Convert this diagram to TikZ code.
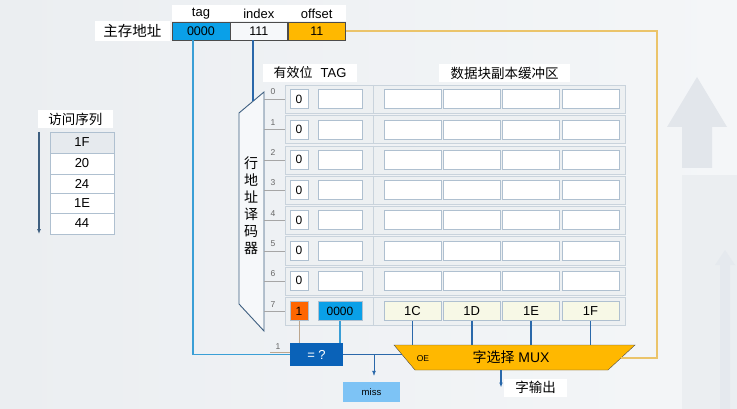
\documentclass[tikz,border=0pt]{standalone}
\usepackage{fontspec}
\setmainfont{Liberation Sans}
\newfontfamily\cjk{Noto Sans CJK SC}
\usetikzlibrary{positioning,arrows.meta}
\definecolor{tagblue}{HTML}{0AA0E8}
\definecolor{offorange}{HTML}{FFB800}
\definecolor{validred}{HTML}{FF6600}
\definecolor{cmpblue}{HTML}{0A62B8}
\definecolor{lineblue}{HTML}{3A9FD6}
\definecolor{darkline}{HTML}{2A68AA}
\definecolor{goldline}{HTML}{EBC46A}
\definecolor{rowfill}{HTML}{EDF0F2}
\definecolor{rowedge}{HTML}{C9D3DC}
\definecolor{celledge}{HTML}{AFC0D0}
\definecolor{datafill}{HTML}{F7F8E6}
\definecolor{misscol}{HTML}{7DC3F5}
\definecolor{tanline}{HTML}{BCA68E}
\definecolor{decfill}{HTML}{F6F8FA}
\definecolor{decedge}{HTML}{3E5F80}
\definecolor{seqgray}{HTML}{E6EAEE}
\definecolor{bgl}{HTML}{EBEEF1}
\definecolor{bgr}{HTML}{F4F6F8}
\definecolor{decor}{HTML}{E2E6EB}
\begin{document}
\begin{tikzpicture}[x=1pt,y=-1pt,
  cell/.style={draw=celledge,fill=white,inner sep=0pt,minimum height=19,font=\fontsize{12}{13}\selectfont},
  addr/.style={draw=gray!60!black,inner sep=0pt,minimum width=57.5,minimum height=18,font=\fontsize{12.5}{13}\selectfont},
  whitebox/.style={fill=white,inner sep=0pt,minimum height=18},
  rowbox/.style={draw=rowedge,fill=rowfill,minimum width=340,minimum height=28,inner sep=0pt,anchor=north west},
  numlbl/.style={font=\fontsize{8.5}{9}\selectfont,text=gray!80!black,inner sep=1pt},
  cjkfont/.style={font=\cjk\fontsize{13.5}{14}\selectfont}]
\useasboundingbox (0,0) rectangle (737,409);
\fill[left color=bgl,right color=bgr] (0,0) rectangle (737,409);
\fill[decor] (667,127) -- (697,77) -- (727,127) -- (712,127) -- (712,168) -- (682,168) -- (682,127) -- cycle;
\fill[decor!50!bgr] (682,175) rectangle (737,409);
\fill[decor!80!bgr] (720,409) -- (720,265) -- (715,265) -- (725,250) -- (735,265) -- (730,265) -- (730,409) -- cycle;

\node[addr,fill=tagblue,anchor=north west] (tag) at (172,22) {0000};
\node[addr,fill=decfill,right=0pt of tag] (index) {111};
\node[addr,fill=offorange,right=0pt of index] (offset) {11};
\fill[white] ([yshift=0.5pt]tag.north west) rectangle ([yshift=17pt]offset.north east);
\node[font=\fontsize{13}{14}\selectfont] at ([yshift=8pt]tag.north) {tag};
\node[font=\fontsize{13}{14}\selectfont] at ([yshift=8pt]index.north) {index};
\node[font=\fontsize{13}{14}\selectfont] at ([yshift=8pt]offset.north) {offset};
\node[whitebox,minimum width=75,minimum height=20,left=2pt of tag,font=\cjk\fontsize{14.5}{15}\selectfont] (mainaddr) {主存地址};

\node[whitebox,minimum width=94,font=\fontsize{13}{14}\selectfont] (hdrvalid) at (310,73) {{\cjk 有效位}\hspace{8pt}TAG};
\node[whitebox,cjkfont,minimum width=131] (hdrdata) at (504.5,73) {数据块副本缓冲区};

\coordinate (decTR) at (264,92);
\coordinate (decTL) at (239,113);
\coordinate (decBL) at (239,304);
\coordinate (decBR) at (264,331);
\draw[decedge,fill=decfill,line width=0.9pt] (decTR) -- (decTL) -- (decBL) -- (decBR) -- cycle;
\node[font=\cjk\fontsize{14}{17}\selectfont,align=center] (dec) at (251,206) {行\\地\\址\\译\\码\\器};
\coordinate (decIn) at (253,101);
\draw[darkline,line width=1.6pt] (decIn |- index.south) -- (decIn);

\foreach \i in {0,...,7}{
  \pgfmathsetmacro{\ry}{85+30.3*\i}
  \node[rowbox] (row\i) at (285,\ry) {};
  \draw[rowedge] ([xshift=88pt]row\i.north west) -- ([xshift=88pt]row\i.south west);
  \draw[gray!70] (row\i.west -| decTR) -- (row\i.west);
  \node[numlbl] at (273,\ry+7) {\i};
}
\foreach \i in {0,...,6}{
  \pgfmathsetmacro{\cy}{99+30.3*\i}
  \node[cell,minimum width=18] (v\i) at (299,\cy) {0};
  \node[cell,minimum width=44] (t\i) at (340,\cy) {};
  \foreach \j in {0,...,3}
    \node[cell,minimum width=57] (d\i\j) at (412.5+59.3*\j,\cy) {};
}
\node[cell,fill=validred,minimum width=18] (v7) at (299,311.1) {1};
\node[cell,fill=tagblue,minimum width=44] (t7) at (340,311.1) {0000};
\foreach \w [count=\j from 0] in {1C,1D,1E,1F}
  \node[cell,fill=datafill,minimum width=57,font=\fontsize{13}{14}\selectfont] (d7\j) at (412.5+59.3*\j,311.1) {\w};

\node[fill=cmpblue,text=white,minimum width=53,minimum height=23,inner sep=0pt,font=\fontsize{13}{14}\selectfont] (cmp) at (316.5,354.5) {= ?};
\coordinate (tagdown) at (193,354.5);
\draw[lineblue,line width=1.6pt] (tagdown |- tag.south) -- (tagdown) -- (cmp.west);
\draw[tanline,line width=1pt] (v7.south) -- (v7.south |- cmp.north);
\draw[lineblue,line width=1.6pt] (t7.south) -- (t7.south |- cmp.north);
\coordinate (onein) at (270,352);
\draw[tanline] (onein) -- (onein -| cmp.west);
\node[numlbl,anchor=south] at (278,351) {1};

\coordinate (muxTL) at (394,345);
\coordinate (muxTR) at (635,345);
\coordinate (muxBR) at (608,370);
\coordinate (muxBL) at (415,370);
\draw[fill=offorange,draw=gray!60!black] (muxTL) -- (muxTR) -- (muxBR) -- (muxBL) -- cycle;
\node[font=\fontsize{14}{15}\selectfont] (mux) at (511,357) {{\cjk 字选择} MUX};
\node[font=\fontsize{8.5}{9}\selectfont] (oe) at (423,359) {OE};
\coordinate (muxIn) at (402,354.5);
\draw[darkline,line width=1.6pt] (cmp.east) -- (muxIn);
\foreach \j in {0,...,3}
  \draw[darkline,line width=1.6pt] (d7\j.south) -- (d7\j.south |- muxTL);

\node[fill=misscol,minimum width=57,minimum height=20,inner sep=0pt,font=\fontsize{9.5}{10}\selectfont] (miss) at (371.5,392) {miss};
\coordinate (missfork) at (374,354.5);
\draw[darkline,-{Latex[length=5pt]},shorten >=6pt] (missfork) -- (missfork |- miss.north);

\node[whitebox,cjkfont,minimum width=63] (wordout) at (535.5,387.5) {字输出};
\coordinate (muxOut) at (501,370);
\draw[darkline,line width=1.2pt,-{Latex[length=5pt]}] (muxOut) -- (muxOut |- wordout.center);

\coordinate (goldR) at (657,358);
\coordinate (muxR) at (621,358);
\draw[goldline,line width=1.6pt] (offset.east) -- (offset.east -| goldR) -- (goldR) -- (muxR);

\node[whitebox,cjkfont,minimum width=75] (seqhdr) at (75.5,119) {访问序列};
\foreach \v/\a/\b/\c [count=\k] in {1F/132/153/seqgray,20/153/174/white,24/174/193/white,1E/193/213/white,44/213/234/white}
  \node[draw=celledge,fill=\c,inner sep=0pt,minimum width=64,minimum height=\b-\a,font=\fontsize{13}{14}\selectfont] (seq\k) at (82,{(\a+\b)/2}) {\v};
\coordinate (seqx) at (39,0);
\draw[decedge,line width=1.2pt,-{Latex[length=5pt]}] (seqx |- seq1.north) -- (seqx |- seq5.south);
\end{tikzpicture}
\end{document}
